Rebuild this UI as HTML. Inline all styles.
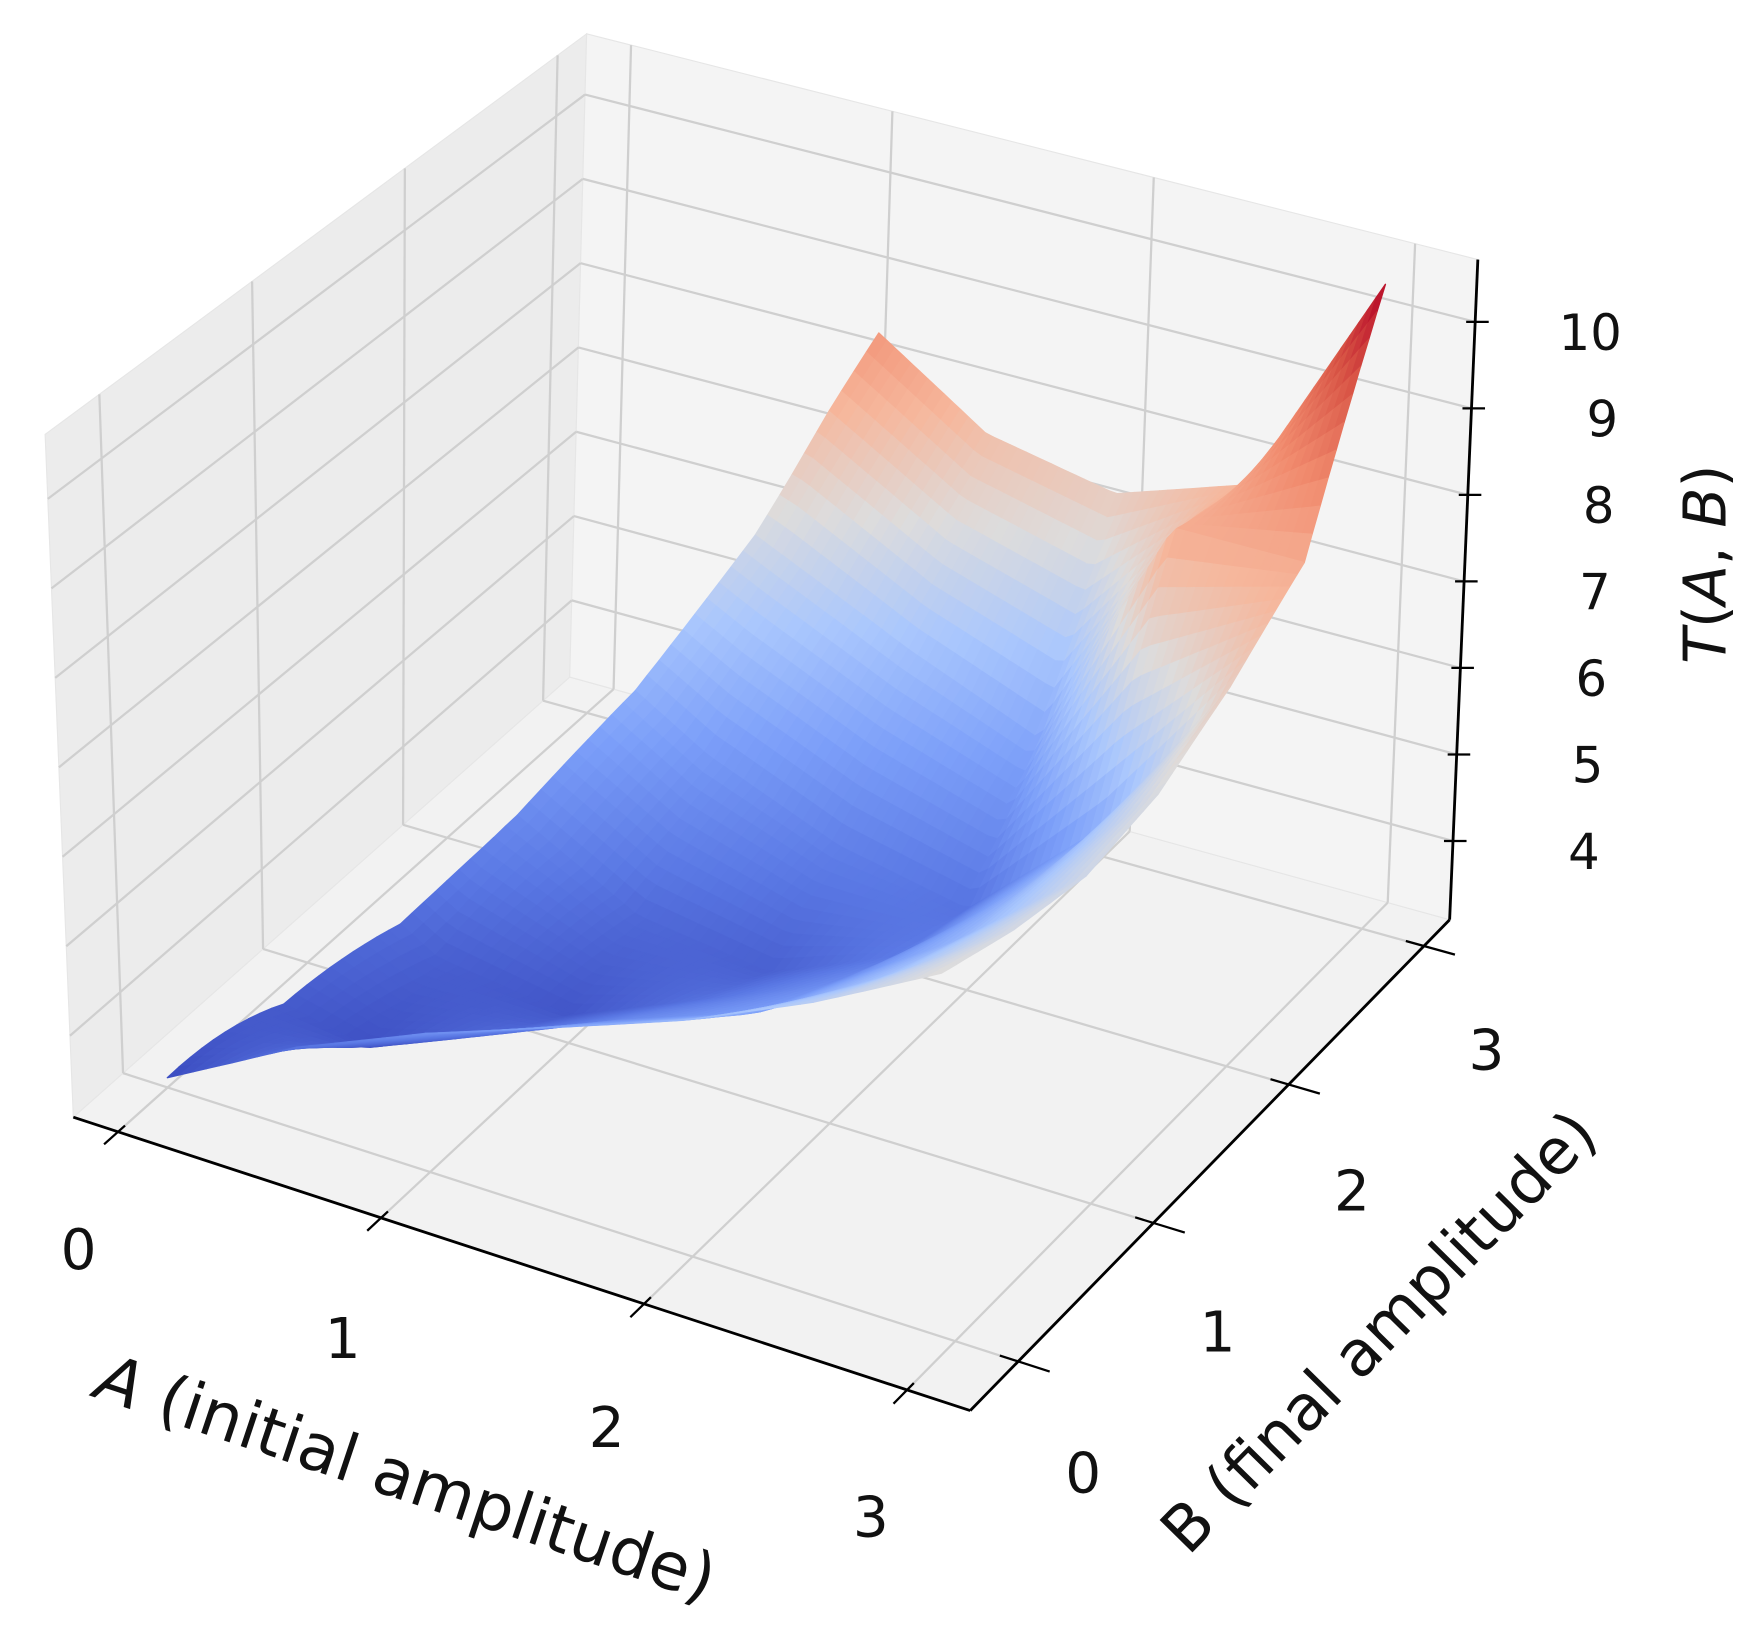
<!DOCTYPE html>
<html><head><meta charset="utf-8"><style>
html,body{margin:0;padding:0;background:#fff;}
svg{display:block;}
text{font-family:"DejaVu Sans","Liberation Sans",sans-serif;fill:#111;}
</style></head><body>
<svg id="chart" width="1761" height="1625" viewBox="0 0 1561 1440" preserveAspectRatio="none" xmlns="http://www.w3.org/2000/svg">
<g id="panes"></g>
<g id="grid"></g>
<g id="surface"></g>
<g id="axes"></g>
<g id="labels"></g>
</svg>
<script>
// ---- data ----
const aGrid = [0, 0.5, 1, 1.5, 2, 2.5, 3];
const bGrid = [0, 0.5, 1, 1.5, 2, 2.5, 3];
const tRowB0   = [3.2, 4.0, 4.6, 5.1, 5.6, 6.2, 6.9];
const tRowB05  = [3.6, 3.3, 3.9, 4.5, 5.0, 5.8, 6.7];
const tRowB1   = [4.5, 3.6, 3.4, 4.0, 4.6, 5.5, 6.6];
const tRowB15  = [5.5, 4.6, 3.8, 3.6, 4.2, 5.4, 6.8];
const tRowB2   = [6.5, 5.8, 4.9, 4.3, 4.0, 5.3, 7.3];
const tRowB25  = [7.5, 7.2, 6.5, 5.8, 5.2, 8.0, 8.0];
const tRowB3   = [8.5, 8.5, 8.6, 7.6, 7.3, 7.8, 10.5];
const aMinByB  = [0, 0.18, 0.36, 0.54, 0.72, 0.9, 1.08];
const aTicks = [0, 1, 2, 3];
const bTicks = [0, 1, 2, 3];
const tTicks = [4, 5, 6, 7, 8, 9, 10];
const tRows = [tRowB0, tRowB05, tRowB1, tRowB15, tRowB2, tRowB25, tRowB3];

const NS = "http://www.w3.org/2000/svg";
const AMIN=-0.17, AMAX=3.24, BMIN=-0.355, BMAX=3.19, TMIN=3.09, TMAX=10.72;
const VMIN=3.2, VMAX=10.5;
const BOT = {"00":[65,990],"10":[860,1250],"01":[505,600],"11":[1285,815]};
const TOP = {"00":[40,385],"10":[830,585],"01":[520,30],"11":[1310,230]};
function bil(C,u,v){
  const x=(1-u)*(1-v)*C["00"][0]+u*(1-v)*C["10"][0]+(1-u)*v*C["01"][0]+u*v*C["11"][0];
  const y=(1-u)*(1-v)*C["00"][1]+u*(1-v)*C["10"][1]+(1-u)*v*C["01"][1]+u*v*C["11"][1];
  return [x,y];
}
function proj(a,b,t){
  const u=(a-AMIN)/(AMAX-AMIN), v=(b-BMIN)/(BMAX-BMIN), w=(t-TMIN)/(TMAX-TMIN);
  const p=bil(BOT,u,v), q=bil(TOP,u,v);
  return [p[0]+(q[0]-p[0])*w, p[1]+(q[1]-p[1])*w];
}
function el(tag,attrs,parent){
  const e=document.createElementNS(NS,tag);
  for(const k in attrs) e.setAttribute(k,attrs[k]);
  parent.appendChild(e); return e;
}
function pts(arr){return arr.map(p=>p[0].toFixed(1)+","+p[1].toFixed(1)).join(" ");}

const panes=document.getElementById("panes");
let pf=el("polygon",{points:pts([proj(AMIN,BMIN,TMIN),proj(AMAX,BMIN,TMIN),proj(AMAX,BMAX,TMIN),proj(AMIN,BMAX,TMIN)]),fill:"#f2f2f2",stroke:"#e6e6e6"},panes);


let pl=el("polygon",{points:pts([proj(AMIN,BMIN,TMIN),proj(AMIN,BMAX,TMIN),proj(AMIN,BMAX,TMAX),proj(AMIN,BMIN,TMAX)]),fill:"#ececec",stroke:"#e6e6e6"},panes);


let pb=el("polygon",{points:pts([proj(AMIN,BMAX,TMIN),proj(AMAX,BMAX,TMIN),proj(AMAX,BMAX,TMAX),proj(AMIN,BMAX,TMAX)]),fill:"#f4f4f4",stroke:"#e6e6e6"},panes);



const grid=document.getElementById("grid");
function gl(p1,p2,name){
  const l=el("line",{x1:p1[0],y1:p1[1],x2:p2[0],y2:p2[1],stroke:"#cfcfcf","stroke-width":2},grid);
  
  
}
aTicks.forEach(a=>{gl(proj(a,BMIN,TMIN),proj(a,BMAX,TMIN),'floor-gridline-a');gl(proj(a,BMAX,TMIN),proj(a,BMAX,TMAX),'back-gridline-a');});
bTicks.forEach(b=>{gl(proj(AMIN,b,TMIN),proj(AMAX,b,TMIN),'floor-gridline-b');gl(proj(AMIN,b,TMIN),proj(AMIN,b,TMAX),'left-gridline-b');});
tTicks.forEach(t=>{gl(proj(AMIN,BMIN,t),proj(AMIN,BMAX,t),'left-gridline-t');gl(proj(AMIN,BMAX,t),proj(AMAX,BMAX,t),'back-gridline-t');});

const CM=[[0,[59,76,192]],[0.125,[90,120,228]],[0.25,[124,159,249]],[0.375,[170,199,253]],[0.5,[221,220,220]],[0.625,[246,183,156]],[0.75,[241,139,110]],[0.875,[216,84,69]],[1,[180,4,38]]];
function cmap(t){
  let x=(t-VMIN)/(VMAX-VMIN); x=Math.max(0,Math.min(1,x));
  for(let i=1;i<CM.length;i++){ if(x<=CM[i][0]){const f=(x-CM[i-1][0])/(CM[i][0]-CM[i-1][0]);
    const c=CM[i-1][1].map((c0,k)=>Math.round(c0+(CM[i][1][k]-c0)*f)); return "rgb("+c.join(",")+")";}}
  return "rgb(180,4,38)";
}
function lerpArr(arr,gridv,x){
  const step=gridv[1]-gridv[0]; let i=Math.floor((x-gridv[0])/step); i=Math.max(0,Math.min(gridv.length-2,i));
  const f=(x-gridv[i])/step; return arr[i]+(arr[i+1]-arr[i])*f;
}
function tAt(a,b){
  const step=bGrid[1]-bGrid[0]; let i=Math.floor(b/step); i=Math.max(0,Math.min(bGrid.length-2,i));
  const f=(b-bGrid[i])/step;
  const t0=lerpArr(tRows[i],aGrid,a), t1=lerpArr(tRows[i+1],aGrid,a);
  return t0+(t1-t0)*f;
}
const surf=document.getElementById("surface");
const NB=60, NS2=60, AEND=aGrid[aGrid.length-1], BEND=bGrid[bGrid.length-1];
const quads=[];
function node(i,j){
  const b=BEND*i/NB; const am=lerpArr(aMinByB,bGrid,b);
  const a=am+(AEND-am)*j/NS2; return [a,b,tAt(a,b)];
}
for(let i=0;i<NB;i++)for(let j=0;j<NS2;j++){
  const c=[node(i,j),node(i,j+1),node(i+1,j+1),node(i+1,j)];
  const ta=(c[0][2]+c[1][2]+c[2][2]+c[3][2])/4;
  const ac=(c[0][0]+c[2][0])/2, bc=(c[0][1]+c[2][1])/2;
  const u=(ac-AMIN)/(AMAX-AMIN), v=(bc-BMIN)/(BMAX-BMIN), w=(ta-TMIN)/(TMAX-TMIN);
  quads.push({c,ta,d:0.5*u+0.87*(1-v)+0.3*w});
}
quads.sort((p,q)=>p.d-q.d);
quads.forEach(q=>{
  const col=cmap(q.ta);
  const p=el("polygon",{points:pts(q.c.map(n=>proj(n[0],n[1],n[2]))),fill:col,stroke:col,"stroke-width":1.2,"stroke-linejoin":"round"},surf);
  
  
});

const axes=document.getElementById("axes");
function al(p1,p2,name,w){
  const l=el("line",{x1:p1[0],y1:p1[1],x2:p2[0],y2:p2[1],stroke:"#000","stroke-width":w||2.5},axes);
  
  
}
al(proj(AMIN,BMIN,TMIN),proj(AMAX,BMIN,TMIN),'a-axis-line');
al(proj(AMAX,BMIN,TMIN),proj(AMAX,BMAX,TMIN),'b-axis-line');
al(proj(AMAX,BMAX,TMIN),proj(AMAX,BMAX,TMAX),'t-axis-line');
aTicks.forEach(a=>al(proj(a,BMIN+0.05,TMIN),proj(a,BMIN-0.1,TMIN),'a-axis-tick',2));
bTicks.forEach(b=>al(proj(AMAX-0.07,b,TMIN),proj(AMAX+0.12,b,TMIN),'b-axis-tick',2));
tTicks.forEach(t=>{const p=proj(AMAX,BMAX,t);al([p[0]-8,p[1]],[p[0]+12,p[1]],'t-axis-tick',2);});

const labs=document.getElementById("labels");
function tx(x,y,s,name,size,rot,anchor){
  const e=el("text",{x:x,y:y,"font-size":size,"text-anchor":anchor||"middle","dominant-baseline":"central"},labs);
  if(rot) e.setAttribute("transform","rotate("+rot+" "+x+" "+y+")");
  e.textContent=s;
  
  
  return e;
}
aTicks.forEach(a=>{const p=proj(a,BMIN-0.75,TMIN);tx(p[0]+58,p[1]+22,String(a),'a-tick-label',50);});
bTicks.forEach(b=>{const p=proj(AMAX+0.6,b,TMIN);tx(p[0]-82,p[1]+55,String(b),'b-tick-label',50);});
tTicks.forEach(t=>{const p=proj(AMAX,BMAX,t);tx(p[0]+130,p[1]+10,String(t),'t-tick-label',44,0,"end");});
tx(360,1310,"","a-axis-title",58,18.5);
const at=labs.lastChild; at.innerHTML='<tspan font-style="italic">A</tspan> (initial amplitude)';
tx(1222,1180,"","b-axis-title",56,-45.5);
const bt=labs.lastChild; bt.textContent='B (final amplitude)';
tx(1512,500,"","t-axis-title",52,-90);
const tt=labs.lastChild; tt.innerHTML='<tspan font-style="italic">T</tspan>(<tspan font-style="italic">A</tspan>, <tspan font-style="italic">B</tspan>)';
</script>
</body></html>
